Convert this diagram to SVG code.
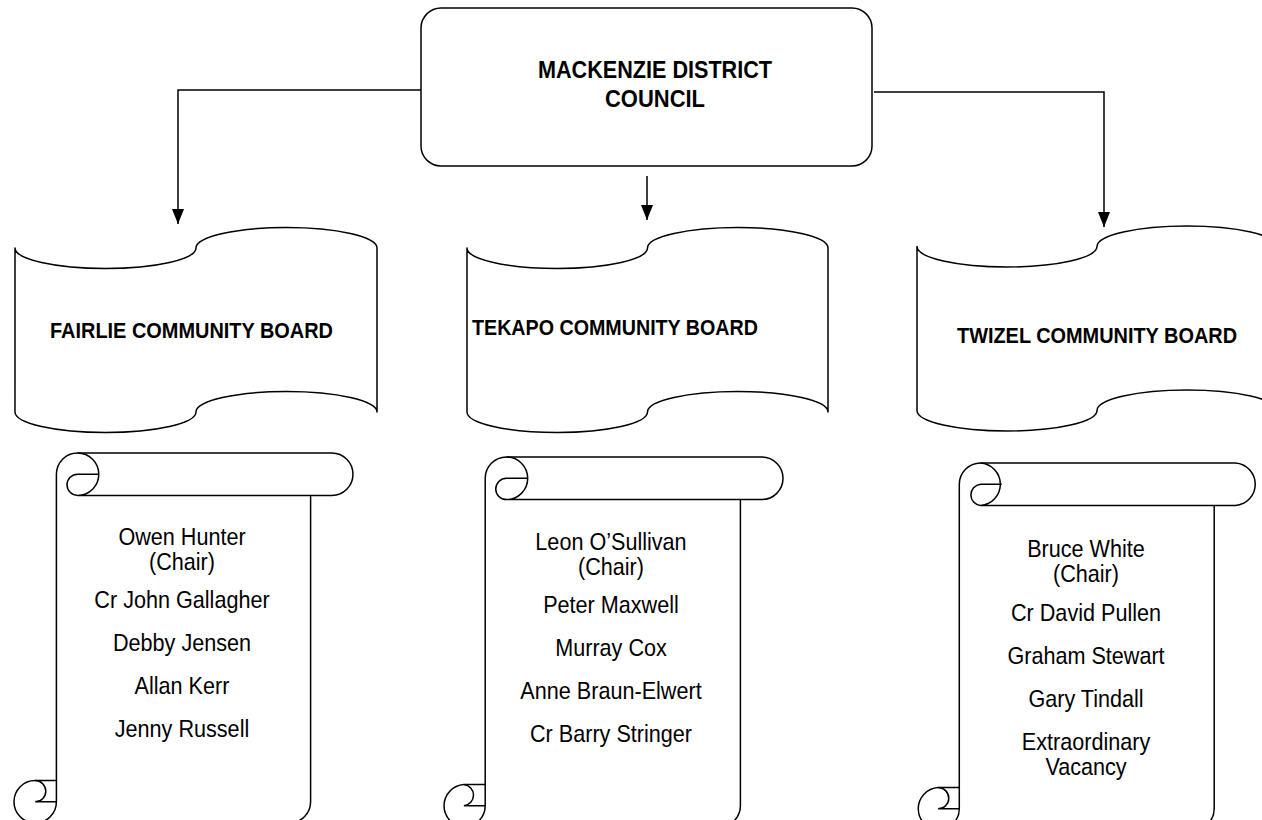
<svg xmlns="http://www.w3.org/2000/svg" width="1262" height="820" viewBox="0 0 1262 820">
<style>
.shape{fill:#fff;stroke:#000;stroke-width:1.5;stroke-linejoin:round}
.line{fill:none;stroke:#000;stroke-width:1.5}
.title{font-family:"Liberation Sans",Arial,sans-serif;font-weight:bold;font-size:24px;fill:#000}
.board{font-family:"Liberation Sans",Arial,sans-serif;font-weight:bold;font-size:21.5px;fill:#000}
.name{font-family:"Liberation Sans",Arial,sans-serif;font-size:24px;fill:#000;text-anchor:middle}
</style>
<defs>
<marker id="arrow" markerUnits="userSpaceOnUse" markerWidth="16" markerHeight="13" refX="15" refY="6" orient="auto">
<path d="M0,0 L15,6 L0,12 Z" fill="#000"/>
</marker>
</defs>
<rect width="1262" height="820" fill="#fff"/>

<g id="connectors">
<path class="line" d="M428,90 H178 V224" marker-end="url(#arrow)"/>
<path class="line" d="M647,176 V220" marker-end="url(#arrow)"/>
<path class="line" d="M874,92 H1104 V227" marker-end="url(#arrow)"/>
</g>

<g id="council">
<rect class="shape" x="421" y="8" width="451" height="158" rx="20" ry="20"/>
<text class="title" x="538" y="78" textLength="234" lengthAdjust="spacingAndGlyphs">MACKENZIE DISTRICT</text>
<text class="title" x="605" y="107" textLength="100" lengthAdjust="spacingAndGlyphs">COUNCIL</text>
</g>

<g id="fairlie-board">
<path class="shape" d="M15,248 A90.5,20.5 0 0 0 196,248 A90.5,20.5 0 0 1 377,248 L377,412 A90.5,20.5 0 0 0 196,412 A90.5,20.5 0 0 1 15,412 Z"/>
<text class="board" x="50" y="338" textLength="283" lengthAdjust="spacingAndGlyphs">FAIRLIE COMMUNITY BOARD</text>
</g>

<g id="tekapo-board">
<path class="shape" d="M467,248 A90.25,20.5 0 0 0 647.5,248 A90.25,20.5 0 0 1 828,248 L828,412 A90.25,20.5 0 0 0 647.5,412 A90.25,20.5 0 0 1 467,412 Z"/>
<text class="board" x="472" y="335" textLength="286" lengthAdjust="spacingAndGlyphs">TEKAPO COMMUNITY BOARD</text>
</g>

<g id="twizel-board">
<path class="shape" d="M917,246.5 A90,20.5 0 0 0 1097,246.5 A90,20.5 0 0 1 1277,246.5 L1277,410.5 A90,20.5 0 0 0 1097,410.5 A90,20.5 0 0 1 917,410.5 Z"/>
<text class="board" x="957" y="343" textLength="280" lengthAdjust="spacingAndGlyphs">TWIZEL COMMUNITY BOARD</text>
</g>

<g id="fairlie-members">
<path class="shape" d="M56.4,780.6 L56.4,474.2 A21.2,21.2 0 0 1 77.6,453 L331.8,453 A21.2,21.2 0 0 1 331.8,495.4 L310.6,495.4 L310.6,801.8 A21.2,21.2 0 0 1 289.4,823 L35.2,823 A21.2,21.2 0 0 1 35.2,780.6 Z"/>
<path class="line" d="M77.6,453 A21.2,21.2 0 0 1 77.6,495.4 A10.6,10.6 0 0 1 77.6,474.2 L98.8,474.2 M310.6,495.4 L77.6,495.4 M35.2,780.6 A10.6,10.6 0 0 1 35.2,801.8 L56.4,801.8 M35.2,823 A21.2,21.2 0 0 0 56.4,801.8 L56.4,780.6"/>
<g transform="translate(182,0) scale(0.9,1)">
<text class="name" x="0" y="545">Owen Hunter</text>
<text class="name" x="0" y="570">(Chair)</text>
<text class="name" x="0" y="608">Cr John Gallagher</text>
<text class="name" x="0" y="651">Debby Jensen</text>
<text class="name" x="0" y="694">Allan Kerr</text>
<text class="name" x="0" y="737">Jenny Russell</text>
</g>
</g>

<g id="tekapo-members">
<path class="shape" d="M485.2,784.5 L485.2,478.3 A21.3,21.3 0 0 1 506.4,457 L761.7,457 A21.3,21.3 0 0 1 761.7,499.6 L740.4,499.6 L740.4,805.7 A21.3,21.3 0 0 1 719.1,827 L463.9,827 A21.3,21.3 0 0 1 463.9,784.5 Z"/>
<path class="line" d="M506.4,457 A21.3,21.3 0 0 1 506.4,499.6 A10.65,10.65 0 0 1 506.4,478.3 L527.7,478.3 M740.4,499.6 L506.4,499.6 M463.9,784.5 A10.65,10.65 0 0 1 463.9,805.7 L485.2,805.7 M463.9,827 A21.3,21.3 0 0 0 485.2,805.7 L485.2,784.5"/>
<g transform="translate(611,0) scale(0.9,1)">
<text class="name" x="0" y="550">Leon O’Sullivan</text>
<text class="name" x="0" y="575">(Chair)</text>
<text class="name" x="0" y="613">Peter Maxwell</text>
<text class="name" x="0" y="656">Murray Cox</text>
<text class="name" x="0" y="699">Anne Braun-Elwert</text>
<text class="name" x="0" y="742">Cr Barry Stringer</text>
</g>
</g>

<g id="twizel-members">
<path class="shape" d="M959.3,787.5 L959.3,484.3 A21.3,21.3 0 0 1 980.5,463 L1235.4,463 A21.3,21.3 0 0 1 1235.4,505.5 L1214.2,505.5 L1214.2,808.8 A21.3,21.3 0 0 1 1192.9,830 L938.1,830 A21.3,21.3 0 0 1 938.1,787.5 Z"/>
<path class="line" d="M980.5,463 A21.3,21.3 0 0 1 980.5,505.5 A10.65,10.65 0 0 1 980.5,484.3 L1001.8,484.3 M1214.2,505.5 L980.5,505.5 M938.1,787.5 A10.65,10.65 0 0 1 938.1,808.8 L959.3,808.8 M938.1,830 A21.3,21.3 0 0 0 959.3,808.8 L959.3,787.5"/>
<g transform="translate(1086,0) scale(0.9,1)">
<text class="name" x="0" y="557">Bruce White</text>
<text class="name" x="0" y="582">(Chair)</text>
<text class="name" x="0" y="621">Cr David Pullen</text>
<text class="name" x="0" y="664">Graham Stewart</text>
<text class="name" x="0" y="707">Gary Tindall</text>
<text class="name" x="0" y="750">Extraordinary</text>
<text class="name" x="0" y="775">Vacancy</text>
</g>
</g>
</svg>
